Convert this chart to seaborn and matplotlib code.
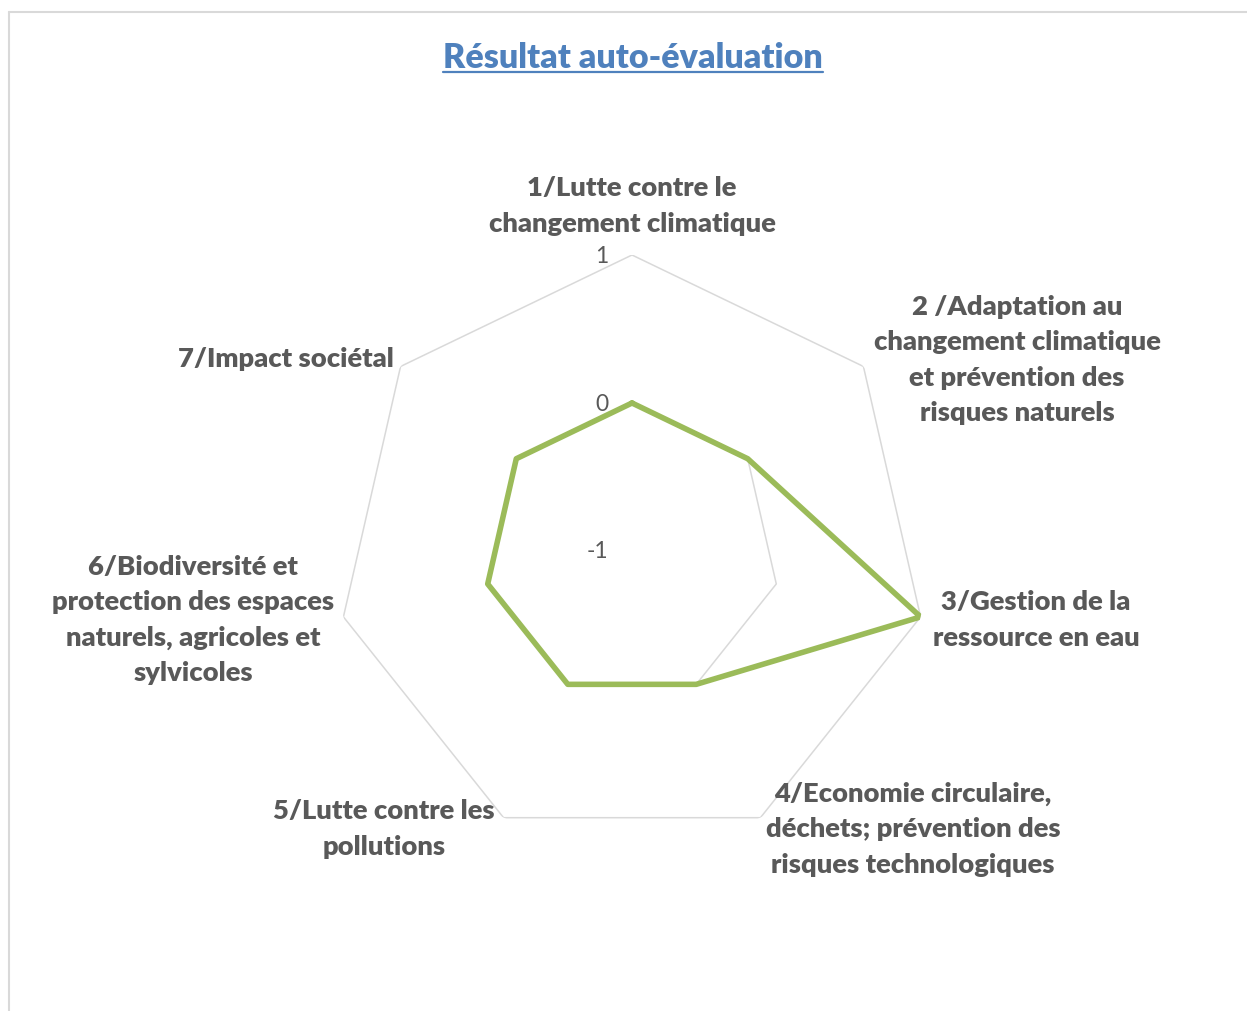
import numpy as np
import matplotlib
matplotlib.use('Agg')
import matplotlib.pyplot as plt
from matplotlib.lines import Line2D
import seaborn as sns

# --- Data ---
categories = [
    "1/Lutte contre le\nchangement climatique",
    "2 /Adaptation au\nchangement climatique\net prévention des\nrisques naturels",
    "3/Gestion de la\nressource en eau",
    "4/Economie circulaire,\ndéchets; prévention des\nrisques technologiques",
    "5/Lutte contre les\npollutions",
    "6/Biodiversité et\nprotection des espaces\nnaturels, agricoles et\nsylvicoles",
    "7/Impact sociétal",
]
scores = [0, 0, 1, 0, 0, 0, 0]
ticks = [-1, 0, 1]
title = "Résultat auto-évaluation"

# label centres in pixels (layout)
label_pos = [(632, 206), (1017, 360), (1036, 620), (913, 829),
             (384, 829), (193, 620), (286, 359)]

W, H = 1247, 1012
GREEN = '#9BBB59'
GRID = '#D9D9D9'
TEXT = '#595959'
BLUE = '#4F81BD'

sns.set_theme(style='white')
plt.rcParams['font.family'] = ['Lato', 'DejaVu Sans']

fig = plt.figure(figsize=(W / 100, H / 100), dpi=100)
fig.patch.set_facecolor('white')

cx, cy, R = 632, 552, 296
ax = fig.add_axes([(cx - R) / W, (H - cy - R) / H, 2 * R / W, 2 * R / H], projection='polar')
ax.set_theta_offset(np.pi / 2)
ax.set_theta_direction(-1)
ax.set_ylim(ticks[0], ticks[-1])
ax.grid(False)
ax.spines['polar'].set_visible(False)
ax.set_xticks([])
ax.set_yticks([])
ax.set_facecolor('none')

n = len(categories)
angles = np.linspace(0, 2 * np.pi, n, endpoint=False)
ang_closed = np.append(angles, 2 * np.pi)

# polygon gridlines
for t in ticks[1:]:
    ax.plot(ang_closed, [t] * (n + 1), color=GRID, lw=1.1, zorder=1)

vals = scores + scores[:1]
sns.lineplot(x=ang_closed, y=vals, sort=False, ax=ax, color=GREEN, lw=4.0, zorder=3)
ax.set_xlabel('')
ax.set_ylabel('')

for t in ticks:
    ax.annotate(str(t), xy=(0, t), xytext=(-17, 0), textcoords='offset points',
                ha='right', va='center', fontsize=16.5, color=TEXT)

for lab, (px, py) in zip(categories, label_pos):
    fig.text(px / W, 1 - py / H, lab, ha='center', va='center', fontsize=19.7,
             fontweight='heavy', color=TEXT, linespacing=1.57)

t = fig.text(633 / W, 1 - 58 / H, title, ha='center', va='center', fontsize=24.5,
             fontweight='heavy', color=BLUE)
fig.canvas.draw()
bb = t.get_window_extent()
fig.add_artist(Line2D([bb.x0 / W, bb.x1 / W], [1 - 73 / H] * 2, color=BLUE, lw=1.6,
                      transform=fig.transFigure))

# chart frame
fig.add_artist(Line2D([9 / W, 1], [1 - 13 / H] * 2, color=GRID, lw=1.5, transform=fig.transFigure))
fig.add_artist(Line2D([9 / W] * 2, [0, 1 - 13 / H], color=GRID, lw=1.5, transform=fig.transFigure))

fig.savefig('out.png', dpi=100)
